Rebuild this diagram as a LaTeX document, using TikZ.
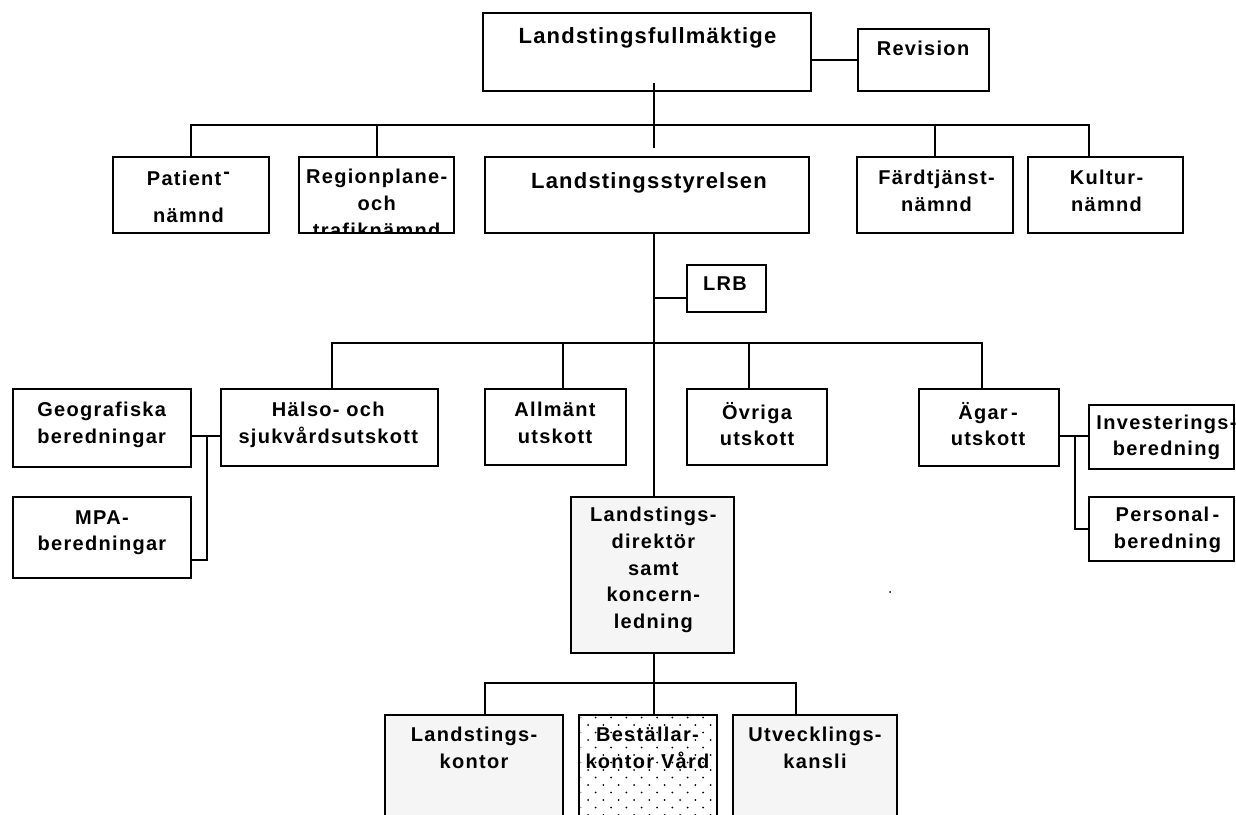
\documentclass[tikz,border=0pt]{standalone}
\usepackage{fontspec}
\setmainfont{Liberation Sans}
\newfontfamily\lsfont{Liberation Sans}[LetterSpace=6.5]
\newfontfamily\lsbigfont{Liberation Sans}[LetterSpace=5.5]
\usetikzlibrary{calc}
\definecolor{boxgray}{RGB}{245,245,245}
\begin{document}
\begin{tikzpicture}[x=1pt,y=-1pt,
  box/.style={draw, line width=1.6pt, fill=white, inner sep=0pt, outer sep=0pt},
  graybox/.style={box, fill=boxgray},
  conn/.style={line width=1.6pt},
  lblbase/.style={anchor=north, inner sep=0pt, outer sep=0pt, align=center,
    execute at begin node={\rule{0pt}{19.5pt}}, font=\lsfont\bfseries\fontsize{20}{26.7}\selectfont},
  lbl/.style={lblbase, yshift=14.5pt},
  single/.style={lblbase, yshift=19.5pt},
  big/.style={single, font=\lsbigfont\bfseries\fontsize{22}{26.7}\selectfont}]
\useasboundingbox (0,0) rectangle (1236,814);
\clip (0,0) rectangle (1236,814);

% ---------- boxes ----------
\node[box, minimum width=328pt, minimum height=78pt] (lf) at (647,52) {};
\node[box, minimum width=131pt, minimum height=62pt] (rev) at (923.5,60) {};
\node[box, minimum width=156pt, minimum height=76pt] (pn) at (191,195) {};
\node[box, minimum width=155pt, minimum height=76pt] (rn) at (376.5,195) {};
\node[box, minimum width=324pt, minimum height=76pt] (ls) at (647,195) {};
\node[box, minimum width=156pt, minimum height=76pt] (ft) at (935,195) {};
\node[box, minimum width=155pt, minimum height=76pt] (kn) at (1105.5,195) {};
\node[box, minimum width=79pt, minimum height=47pt] (lrb) at (726.5,288.5) {};
\node[box, minimum width=178pt, minimum height=78pt] (geo) at (102,428) {};
\node[box, minimum width=217pt, minimum height=77pt] (hs) at (329.5,427.5) {};
\node[box, minimum width=178pt, minimum height=81pt] (mpa) at (102,537.5) {};
\node[box, minimum width=141pt, minimum height=76pt] (al) at (555.5,427) {};
\node[box, minimum width=140pt, minimum height=76pt] (ov) at (757,427) {};
\node[box, minimum width=140pt, minimum height=77pt] (ag) at (989,427.5) {};
\node[box, minimum width=145pt, minimum height=64pt] (inv) at (1161.5,437) {};
\node[box, minimum width=145pt, minimum height=64pt] (per) at (1161.5,529) {};
\node[graybox, minimum width=163pt, minimum height=156pt] (ld) at (652.5,575) {};
\node[graybox, minimum width=178pt, minimum height=125pt] (lk) at (474,777.5) {};
\node[box, minimum width=138pt, minimum height=125pt] (bv) at (648,777.5) {};
\node[graybox, minimum width=164pt, minimum height=125pt] (uk) at (815,777.5) {};

% dotted fill of Beställarkontor
\begin{scope}
  \clip ($(bv.south west)+(1.5,-1.5)$) rectangle ($(bv.north east)+(-1.5,1.5)$);
  \foreach \k in {0,...,15} {
    \foreach \i in {0,...,10} {
      \pgfmathsetmacro{\dx}{mod(\k,2)==0 ? 7.67 : 0}
      \fill (572.7+15.33*\i+\dx, 717.5+7.5*\k) circle (1.0);
    }
  }
\end{scope}

% ---------- connectors ----------
\coordinate (trunk) at (654,0);
\coordinate (bus1) at (654,125);
\coordinate (bus2) at (654,343);
\coordinate (bus3) at (654,683);
\coordinate (gv) at (207,0);
\coordinate (av) at (1075,0);

\draw[conn] (rev.west) -- (rev.west -| lf.east);
\draw[conn] ($(lf.south -| trunk)+(0,-8)$) -- ($(ls.north -| trunk)+(0,-9)$);
\coordinate (knd) at ($(kn.north)+(-16.5,0)$);
\coordinate (rnd) at ($(rn.north)+(0.5,0)$);
\draw[conn] (pn.north) |- (bus1) -| (knd);
\draw[conn] (rnd) -- (rnd |- bus1);
\draw[conn] (ft.north) -- (ft.north |- bus1);

\draw[conn] (ls.south -| trunk) -- (ld.north -| trunk);
\coordinate (lrbc) at ($(lrb.west)+(0,9.5)$);
\draw[conn] (lrbc) -- (lrbc -| trunk);

\coordinate (hsd) at ($(hs.north)+(2.5,0)$);
\coordinate (ald) at ($(al.north)+(7.5,0)$);
\coordinate (ovd) at ($(ov.north)+(-8,0)$);
\coordinate (agd) at ($(ag.north)+(-7,0)$);
\draw[conn] (hsd) |- (bus2) -| (agd);
\draw[conn] (ald) -- (ald |- bus2);
\draw[conn] (ovd) -- (ovd |- bus2);

\coordinate (hsc) at ($(hs.west)+(0,8.5)$);
\coordinate (mpac) at ($(mpa.east)+(0,22.5)$);
\draw[conn] (hsc) -- (hsc -| geo.east);
\draw[conn] (hsc -| gv) |- (mpac);

\coordinate (agc) at ($(ag.east)+(0,8.5)$);
\draw[conn] (agc) -- (agc -| inv.west);
\draw[conn] (agc -| av) |- (per.west);

\coordinate (lkd) at ($(lk.north)+(11,0)$);
\coordinate (ukd) at ($(uk.north)+(-19,0)$);
\draw[conn] (ld.south -| trunk) -- (bv.north -| trunk);
\draw[conn] (lkd) |- (bus3) -| (ukd);

% stray dot
\fill (890,592) circle (1);

% ---------- texts ----------
\node[big] (lft) at (647.5,43) {Landstingsfullmäktige};
\node[single] (revt) at (923,55) {Revision};
\node[lbl] (pnt) at (188.5,186) {Patient\kern2pt\raisebox{7pt}{-}\\[10pt]nämnd};
\begin{scope}
  \clip (rn.south west) rectangle (rn.north east);
  \node[lbl] (rnt) at (376.7,184) {Regionplane-\\och\\trafiknämnd};
\end{scope}
\draw[line width=1.6pt] (rn.south west) -- (rn.south east);
\node[big] (lst) at (649,188) {Landstingsstyrelsen};
\node[lbl] (ftt) at (936.5,185) {Färdtjänst-\\nämnd};
\node[lbl] (knt) at (1106.5,185) {Kultur-\\nämnd};
\node[single] (lrbt) at (725,290) {LRB};
\node[lbl] (geot) at (101.7,416.7) {Geografiska\\beredningar};
\node[lbl] (hst) at (328.3,416.7) {Hälso- och\\sjukvårdsutskott};
\node[lbl] (mpat) at (102,525) {MPA-\\beredningar};
\node[lbl] (alt) at (555,416.7) {Allmänt\\utskott};
\node[lbl] (ovt) at (757,416.7) {Övriga\\utskott};
\node[lbl] (agt) at (988,416.7) {Ägar\,-\\utskott};
\node[lbl] (invt) at (1166.5,429.3) {Investerings-\\beredning};
\node[lbl] (pert) at (1167.5,521.7) {Personal\,-\\beredning};
\node[lbl] (ldt) at (653.3,521.7) {Landstings-\\direktör\\samt\\koncern-\\ledning};
\node[lbl] (lkt) at (474,741.7) {Landstings-\\kontor};
\node[lbl] (bvt) at (647.5,741.7) {Beställar-\\kontor Vård};
\node[lbl] (ukt) at (815,741.7) {Utvecklings-\\kansli};
\end{tikzpicture}
\end{document}
